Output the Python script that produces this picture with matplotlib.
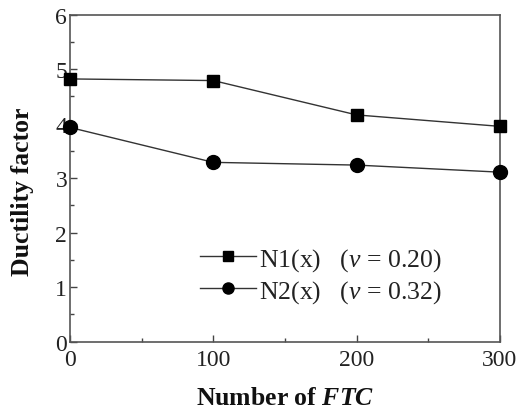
import matplotlib
matplotlib.use("Agg")
import matplotlib.pyplot as plt
from matplotlib.ticker import MultipleLocator

plt.rcParams['font.family'] = ['Liberation Serif', 'Noto Sans CJK SC', 'DejaVu Serif']
plt.rcParams['mathtext.fontset'] = 'custom'
plt.rcParams['mathtext.rm'] = 'Liberation Serif'
plt.rcParams['mathtext.it'] = 'Liberation Serif:italic'
plt.rcParams['mathtext.bf'] = 'Liberation Serif:bold'
plt.rcParams['mathtext.bfit'] = 'Liberation Serif:bold:italic'

ftc = [0, 100, 200, 300]
n1 = [4.82, 4.79, 4.16, 3.95]
n2 = [3.93, 3.29, 3.24, 3.11]
labels = [r"N1(x)   ($v$ = 0.20)", r"N2(x)   ($v$ = 0.32)"]
xticks = [0, 100, 200, 300]
yticks = [0, 1, 2, 3, 4, 5, 6]

fig = plt.figure(figsize=(5.17, 4.10), dpi=100)
ax = fig.add_axes([0.1354, 0.164, 0.8316, 0.798])

lc = '#333333'
ax.plot(ftc, n1, color=lc, lw=1.0, marker='s', ms=9, mfc='black', mec='black', label=labels[0], clip_on=False, zorder=3)
ax.plot(ftc, n2, color=lc, lw=1.0, marker='o', ms=10, mfc='black', mec='black', label=labels[1], clip_on=False, zorder=3)

ax.set_xlim(0, 300)
ax.set_ylim(0, 6)
ax.set_xticks(xticks)
ax.set_yticks(yticks)
ax.xaxis.set_minor_locator(MultipleLocator(50))
ax.yaxis.set_minor_locator(MultipleLocator(0.5))
ax.tick_params(which='major', direction='in', length=5, width=1, colors='#444444', labelsize=17, labelcolor='#222222')
ax.tick_params(axis='x', which='major', pad=5)
ax.tick_params(axis='y', which='major', pad=2)
ax.tick_params(which='minor', direction='in', length=3, width=1, colors='#444444')
for s in ax.spines.values():
    s.set_color('#555555')
    s.set_linewidth(1.2)

ax.set_xlabel(r"Number of $\mathbfit{FTC}$", fontsize=18.5, fontweight='bold', color='#111111', labelpad=11.5)
ax.set_ylabel("Ductility factor", fontsize=18.5, fontweight='bold', color='#111111')
ax.yaxis.set_label_coords(-0.084, 0.461)

leg = ax.legend(loc='lower left', bbox_to_anchor=(0.302, 0.113), frameon=False, fontsize=18.5,
                handlelength=2.2, handletextpad=0.1, labelspacing=0.2, borderpad=0,
                borderaxespad=0, markerscale=0.8)
for t in leg.get_texts():
    t.set_color('#222222')

fig.savefig("out.png", dpi=100)
